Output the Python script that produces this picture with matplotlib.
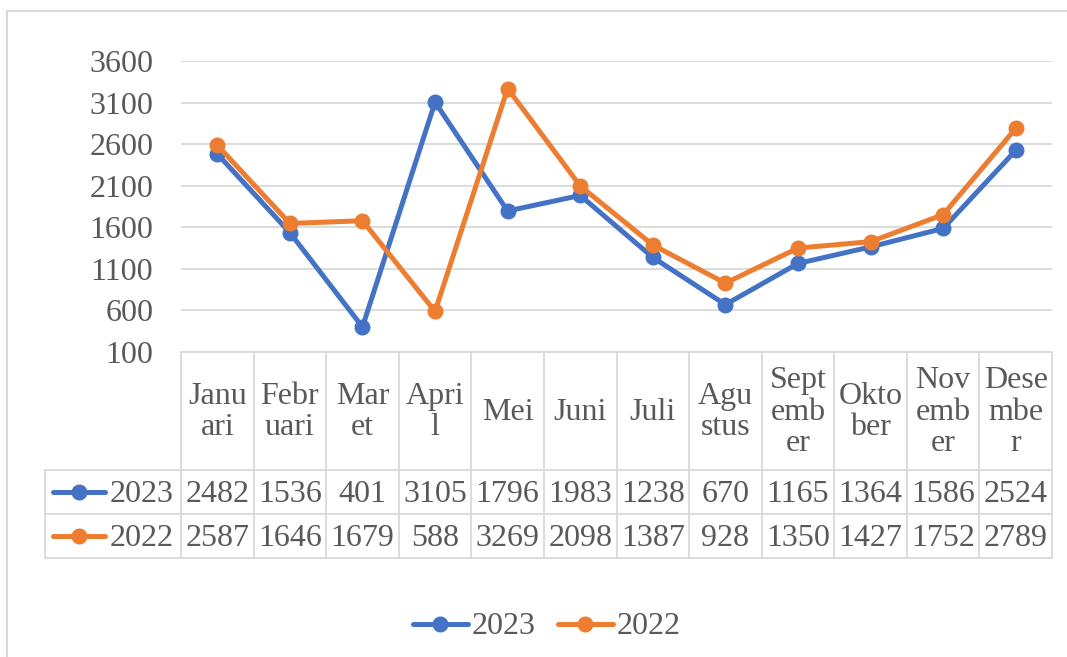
import matplotlib.pyplot as plt
import numpy as np

months = ["Januari", "Februari", "Maret", "April", "Mei", "Juni", "Juli",
          "Agustus", "September", "Oktober", "November", "Desember"]
# labels as wrapped in the table header
month_labels = ["Janu\nari", "Febr\nuari", "Mar\net", "Apri\nl", "Mei", "Juni",
                "Juli", "Agu\nstus", "Sept\nemb\ner", "Okto\nber", "Nov\nemb\ner",
                "Dese\nmbe\nr"]
series_names = ["2023", "2022"]
values_2023 = [2482, 1536, 401, 3105, 1796, 1983, 1238, 670, 1165, 1364, 1586, 2524]
values_2022 = [2587, 1646, 1679, 588, 3269, 2098, 1387, 928, 1350, 1427, 1752, 2789]
yticks = [100, 600, 1100, 1600, 2100, 2600, 3100, 3600]

colors = {"2023": "#4472C4", "2022": "#ED7D31"}
text_color = "#595959"
grid_color = "#D9D9D9"
font = "Liberation Serif"
fs = 23

W, H = 1067, 657
fig = plt.figure(figsize=(W / 100, H / 100), dpi=100)

# plot area (pixel layout)
px_left, px_right, px_top, px_bottom = 181, 1052, 61, 352
ax = fig.add_axes([px_left / W, 1 - px_bottom / H,
                   (px_right - px_left) / W, (px_bottom - px_top) / H])
x = np.arange(len(months))
for name, vals in [("2023", values_2023), ("2022", values_2022)]:
    ax.plot(x, vals, color=colors[name], linewidth=3.6, marker="o",
            markersize=10.5, solid_capstyle="round", zorder=3)
ax.set_xlim(-0.5, len(months) - 0.5)
ax.set_ylim(100, 3600)
ax.set_yticks(yticks)
ax.set_yticklabels([str(t) for t in yticks], fontfamily=font, fontsize=fs,
                   color=text_color)
ax.tick_params(axis="y", length=0, pad=20)
ax.set_xticks([])
ax.grid(axis="y", color=grid_color, linewidth=1.3)
ax.set_axisbelow(True)
for s in ax.spines.values():
    s.set_visible(False)

# overlay in pixel coordinates for table, frame and legend
ov = fig.add_axes([0, 0, 1, 1])
ov.set_xlim(0, W)
ov.set_ylim(H, 0)
ov.axis("off")
ov.patch.set_alpha(0)

# chart frame
ov.plot([7, 7], [11, H + 5], color=grid_color, lw=1.5, clip_on=False)
ov.plot([7, W + 5], [11, 11], color=grid_color, lw=1.5, clip_on=False)

# data table
col_w = (px_right - px_left) / len(months)
col_edges = [px_left + i * col_w for i in range(len(months) + 1)]
row_edges = [352, 470, 514, 558]
tab_left = 45
lk = dict(color=grid_color, lw=1.3)
ov.plot([px_left, px_right], [row_edges[0]] * 2, **lk)
for r in row_edges[1:]:
    ov.plot([tab_left, px_right], [r, r], **lk)
ov.plot([tab_left, tab_left], [row_edges[1], row_edges[3]], **lk)
for i, c in enumerate(col_edges):
    ov.plot([c, c], [row_edges[0], row_edges[3]], **lk)

tk = dict(fontfamily=font, fontsize=fs, color=text_color,
          ha="center", va="center", linespacing=1.12)
for i, lab in enumerate(month_labels):
    ov.text(px_left + (i + 0.5) * col_w, 412, lab, **tk)

for r, (name, vals) in enumerate([("2023", values_2023), ("2022", values_2022)]):
    yc = (row_edges[r + 1] + row_edges[r + 2]) / 2
    for i, v in enumerate(vals):
        ov.text(px_left + (i + 0.5) * col_w, yc + 2, str(v), **tk)
    ov.plot([53, 105], [yc, yc], color=colors[name], lw=3.6,
            solid_capstyle="round")
    ov.plot([79], [yc], marker="o", color=colors[name], markersize=10.5)
    ov.text(110, yc + 2, name, fontfamily=font, fontsize=fs, color=text_color,
            ha="left", va="center")

# bottom legend
for name, x0 in [("2023", 413), ("2022", 558)]:
    ov.plot([x0, x0 + 55], [624, 624], color=colors[name], lw=3.6,
            solid_capstyle="round")
    ov.plot([x0 + 27], [624], marker="o", color=colors[name], markersize=10.5)
    ov.text(x0 + 59, 626, name, fontfamily=font, fontsize=fs, color=text_color,
            ha="left", va="center")

fig.savefig("out.png", dpi=100)
